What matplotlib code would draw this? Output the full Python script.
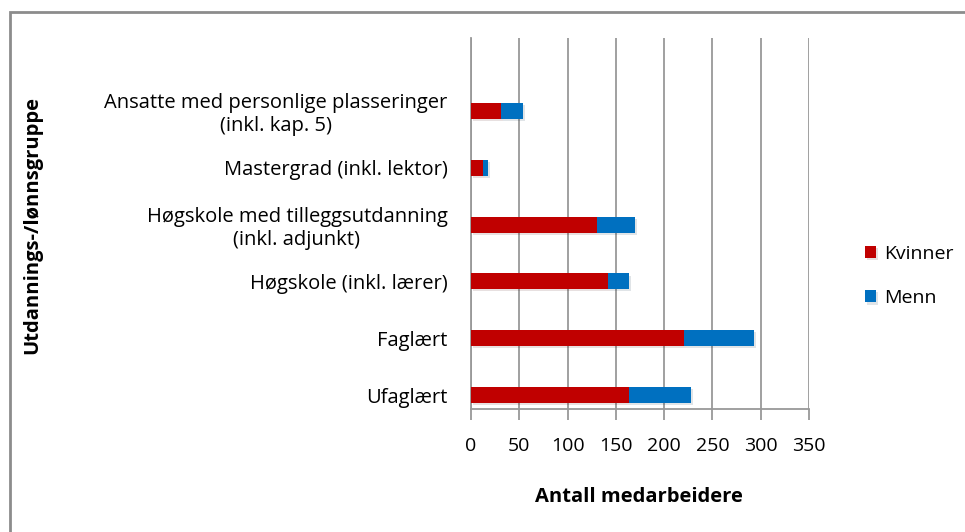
import matplotlib.pyplot as plt
import matplotlib.patheffects as pe
from matplotlib.patches import Rectangle

categories = ['Ufaglært', 'Faglært', 'Høgskole (inkl. lærer)',
              'Høgskole med tilleggsutdanning\n(inkl. adjunkt)',
              'Mastergrad (inkl. lektor)',
              'Ansatte med personlige plasseringer\n(inkl. kap. 5)']
kvinner = [164, 221, 142, 130, 12, 31]
menn = [64, 72, 22, 40, 6, 23]
xticks = [0, 50, 100, 150, 200, 250, 300, 350]

plt.rcParams['font.family'] = ['Open Sans', 'DejaVu Sans']

fig = plt.figure(figsize=(9.65, 5.32), dpi=100)
ax = fig.add_axes([471 / 965, 1 - 409 / 532, 338 / 965, 371 / 532])

# outer chart frame
fig.patches.append(Rectangle((10 / 965, -0.1), 1.1, 1.1 - 12 / 532,
                             transform=fig.transFigure, fill=False,
                             edgecolor='#8c8c8c', linewidth=2))

shadow = [pe.SimplePatchShadow(offset=(1.5, -1.5), alpha=0.12), pe.Normal()]
ypos = list(range(len(categories)))
ax.barh(ypos, kvinner, height=0.28, color='#C00000', label='Kvinner',
        zorder=3, path_effects=shadow)
ax.barh(ypos, menn, left=kvinner, height=0.28, color='#0070C0', label='Menn',
        zorder=3, path_effects=shadow)

ax.set_xlim(0, 350)
ax.set_ylim(-0.246, 6.285)
ax.set_xticks(xticks)
ax.set_yticks(ypos)
ax.set_yticklabels(categories, fontsize=14.5, multialignment='center')
ax.tick_params(axis='y', length=0, pad=17)
ax.tick_params(axis='x', length=8, color='#999999', width=1.3, labelsize=14, pad=12)

ax.grid(axis='x', color='#999999', linewidth=1.3, zorder=0)
for s in ['top', 'right']:
    ax.spines[s].set_visible(False)
ax.spines['left'].set_color('#999999')
ax.spines['bottom'].set_color('#999999')
ax.spines['left'].set_linewidth(1.3)
ax.spines['bottom'].set_linewidth(1.3)

fig.text(639 / 965, 1 - 497 / 532, 'Antall medarbeidere', fontsize=14.5,
         fontweight='bold', ha='center', va='center')
fig.text(32 / 965, 1 - 225 / 532, 'Utdannings-/lønnsgruppe', fontsize=14.5,
         fontweight='bold', ha='center', va='center', rotation=90)

ax.legend(loc='center left', bbox_to_anchor=(847 / 965, 1 - 276 / 532),
          bbox_transform=fig.transFigure, frameon=False, fontsize=14,
          handlelength=0.6, handleheight=0.6, handletextpad=0.4, labelspacing=1.35)

fig.savefig('out.png', dpi=100)
